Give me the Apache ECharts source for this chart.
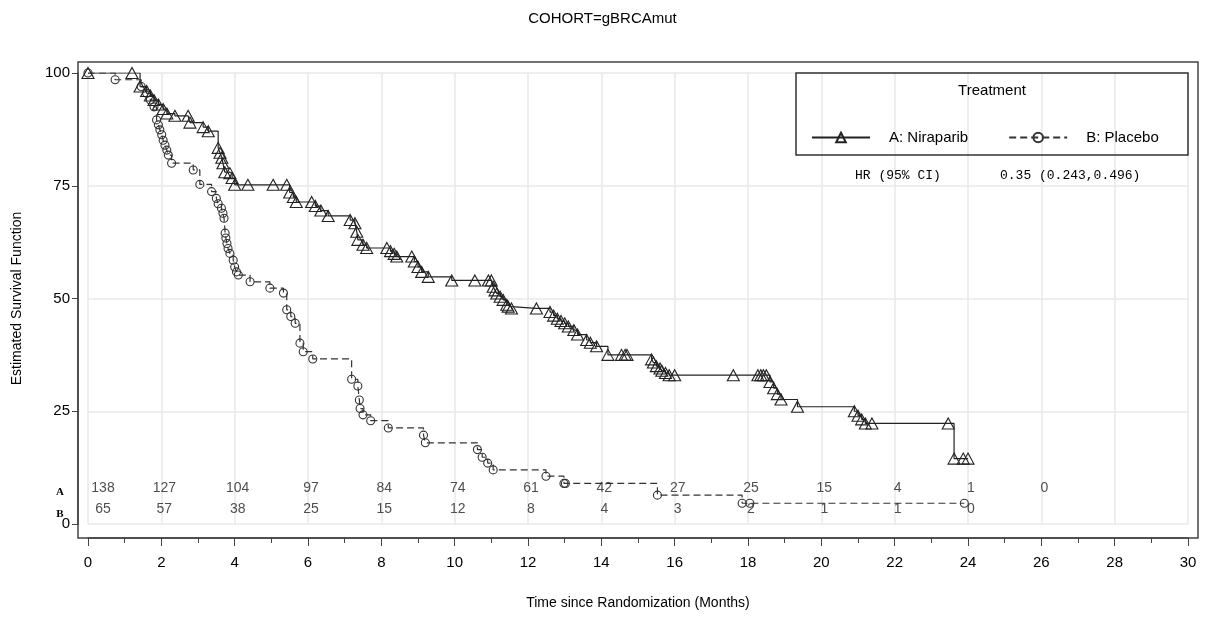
<!DOCTYPE html>
<html>
<head>
<meta charset="utf-8">
<script src="https://cdn.jsdelivr.net/npm/echarts@6/dist/echarts.min.js"></script>
<style>
  html, body { margin: 0; padding: 0; background: #fff; }
  #chart { width: 1205px; height: 617px; }
</style>
</head>
<body>
<div id="chart"></div>
<script>
// KM curve A: Niraparib (time in months, estimated survival %)
var armATime = [0, 1.2, 1.42, 1.6, 1.7, 1.8, 1.92, 2.05, 2.15, 2.37,
                2.73, 2.78, 3.14, 3.28, 3.55, 3.6, 3.65, 3.68, 3.73, 3.87,
                3.93, 4.0, 4.36, 5.05, 5.42, 5.5, 5.6, 5.68, 6.1, 6.2,
                6.35, 6.55, 7.15, 7.28, 7.33, 7.36, 7.5, 7.6, 8.15, 8.25,
                8.35, 8.42, 8.83, 8.9, 9.0, 9.1, 9.28, 9.92, 10.55, 10.92,
                11.0, 11.05, 11.1, 11.15, 11.24, 11.32, 11.42, 11.46, 11.55, 12.23,
                12.6, 12.7, 12.8, 12.9, 13.0, 13.1, 13.25, 13.35, 13.6, 13.7,
                13.87, 14.18, 14.55, 14.65, 14.7, 15.37, 15.42, 15.5, 15.6, 15.65,
                15.75, 15.85, 16.0, 17.6, 18.27, 18.35, 18.42, 18.5, 18.6, 18.7,
                18.8, 18.9, 19.35, 20.9, 21.0, 21.1, 21.2, 21.38, 23.46, 23.62,
                23.87, 24.0];
var armASurv = [100, 100, 97, 96, 95, 94, 93, 92, 91, 90.5,
                90.5, 89, 88, 87.1, 83.4, 82.3, 81.2, 80, 78, 77.8,
                76.7, 75.2, 75.2, 75.2, 75.2, 73.5, 72.5, 71.4, 71.4, 70.5,
                69.5, 68.3, 67.4, 66.7, 64.8, 63, 61.9, 61.2, 61.2, 60.5,
                59.9, 59.3, 59.3, 58.2, 57, 55.9, 54.8, 54.0, 54.0, 54.0,
                54.0, 52.6, 51.8, 51.1, 50.4, 49.7, 48.6, 48.2, 47.8, 47.8,
                47, 46.2, 45.5, 45, 44.5, 43.8, 43, 42, 40.8, 40.2,
                39.4, 37.5, 37.5, 37.5, 37.5, 36.5, 35.8, 35, 34.5, 34,
                33.5, 33, 33, 33, 33, 33, 33, 33, 31.5, 30.1,
                28.8, 27.6, 26, 25, 24, 23.2, 22.3, 22.3, 22.3, 14.5,
                14.5, 14.5];

// KM curve B: Placebo
var armBTime = [0, 0.74, 1.45, 1.6, 1.7, 1.8, 1.87, 1.92, 1.96, 2.01,
                2.05, 2.1, 2.15, 2.19, 2.28, 2.87, 3.05, 3.37, 3.5, 3.55,
                3.64, 3.68, 3.71, 3.74, 3.76, 3.79, 3.82, 3.87, 3.96, 4.0,
                4.05, 4.1, 4.42, 4.96, 5.33, 5.42, 5.53, 5.65, 5.78, 5.87,
                6.13, 7.19, 7.36, 7.4, 7.42, 7.5, 7.71, 8.19, 9.15, 9.2,
                10.62, 10.75, 10.9, 11.05, 12.49, 12.98, 13.02, 15.53, 17.84, 18.05,
                23.9];
var armBSurv = [100, 98.5, 97, 95.5, 94, 92.5, 89.6, 88.5, 87.4, 86.3,
                85.1, 84, 82.9, 81.8, 80, 78.5, 75.3, 73.7, 72.2, 71,
                70, 68.9, 67.8, 64.5, 63.4, 62.2, 61.1, 60, 58.5, 57,
                55.9, 55.2, 53.7, 52.3, 51.2, 47.5, 46, 44.5, 40.1, 38.2,
                36.6, 32.1, 30.6, 27.5, 25.6, 24.2, 22.9, 21.3, 19.7, 18.0,
                16.5, 14.8, 13.5, 12.0, 10.6, 9.0, 9.0, 6.4, 4.6, 4.6,
                4.6];

// numbers at risk
var riskTimes = [0, 2, 4, 6, 8, 10, 12, 14, 16, 18, 20, 22, 24, 26];
var riskA = [138, 127, 104, 97, 84, 74, 61, 42, 27, 25, 15, 4, 1, 0];
var riskB = [65, 57, 38, 25, 15, 12, 8, 4, 3, 2, 1, 1, 0];
var riskRowA = 8.0;
var riskRowB = 3.3;

var xTicks = [0, 2, 4, 6, 8, 10, 12, 14, 16, 18, 20, 22, 24, 26, 28, 30];
var yTicks = [0, 25, 50, 75, 100];

function pairs(xs, ys) {
    var out = [];
    for (var i = 0; i < xs.length; i++) out.push([xs[i], ys[i]]);
    return out;
}

function riskData(counts, level) {
    var out = [];
    for (var i = 0; i < counts.length; i++) {
        out.push({
            value: [riskTimes[i], level],
            label: { offset: i === 0 ? [15, 0] : [3, 0] }
        });
    }
    return out;
}

var font = 'Liberation Sans, Arial, sans-serif';
var chart = echarts.init(document.getElementById('chart'));

var option = {
    animation: false,
    backgroundColor: '#fff',
    title: {
        text: 'COHORT=gBRCAmut',
        left: 'center',
        top: 6,
        textStyle: { fontFamily: font, fontSize: 15, fontWeight: 'normal', color: '#000' }
    },
    grid: { left: 88, right: 17, top: 73, bottom: 93 },
    legend: {
        left: 806,
        top: 125,
        itemWidth: 58,
        itemHeight: 12,
        itemGap: 40,
        z: 20,
        data: ['A: Niraparib', 'B: Placebo'],
        textStyle: { fontFamily: font, fontSize: 15, color: '#000', padding: [0, 0, 0, 14] }
    },
    xAxis: {
        type: 'value',
        min: 0,
        max: 30,
        interval: 2,
        offset: 14,
        name: 'Time since Randomization (Months)',
        nameLocation: 'middle',
        nameGap: 58,
        nameTextStyle: { fontFamily: font, fontSize: 14, color: '#000' },
        axisLine: { show: true, onZero: false, lineStyle: { color: '#444', width: 1.5 } },
        axisTick: { show: true, length: 8, lineStyle: { color: '#444' } },
        minorTick: { show: true, splitNumber: 2, length: 5, lineStyle: { color: '#444' } },
        axisLabel: {
            margin: 17,
            fontFamily: font, fontSize: 15, color: '#000',
            formatter: function (v) { return xTicks.indexOf(v) >= 0 ? String(v) : ''; }
        },
        splitLine: { show: true, lineStyle: { color: '#e8e8e8', width: 1.5 } }
    },
    yAxis: {
        type: 'value',
        min: 0,
        max: 100,
        interval: 25,
        offset: 10,
        name: 'Estimated Survival Function',
        nameLocation: 'middle',
        nameGap: 54,
        nameTextStyle: { fontFamily: font, fontSize: 14, color: '#000' },
        axisLine: { show: true, onZero: false, lineStyle: { color: '#444', width: 1.5 } },
        axisTick: { show: true, length: 6, lineStyle: { color: '#444' } },
        axisLabel: {
            margin: 8,
            fontFamily: font, fontSize: 15, color: '#000',
            formatter: function (v) { return yTicks.indexOf(v) >= 0 ? String(v) : ''; }
        },
        splitLine: { show: true, lineStyle: { color: '#e8e8e8', width: 1.5 } }
    },
    series: [
        {
            name: 'B: Placebo',
            type: 'line',
            step: 'end',
            data: pairs(armBTime, armBSurv),
            symbol: 'circle',
            symbolSize: 8,
            showAllSymbol: true,
            lineStyle: { color: '#333', width: 1.2, type: [7, 4] },
            itemStyle: { color: 'rgba(255,255,255,0)', borderColor: '#333', borderWidth: 1.1 },
            z: 2
        },
        {
            name: 'A: Niraparib',
            type: 'line',
            step: 'end',
            data: pairs(armATime, armASurv),
            symbol: 'triangle',
            symbolSize: [12, 11],
            showAllSymbol: true,
            lineStyle: { color: '#222', width: 1.2 },
            itemStyle: { color: 'rgba(255,255,255,0)', borderColor: '#222', borderWidth: 1.1 },
            z: 3
        },
        {
            type: 'scatter',
            symbolSize: 0,
            silent: true,
            data: riskData(riskA, riskRowA),
            label: {
                show: true, position: 'inside',
                fontFamily: font, fontSize: 14, color: '#222',
                formatter: function (p) { return String(riskA[p.dataIndex]); }
            },
            z: 4
        },
        {
            type: 'scatter',
            symbolSize: 0,
            silent: true,
            data: riskData(riskB, riskRowB),
            label: {
                show: true, position: 'inside',
                fontFamily: font, fontSize: 14, color: '#222',
                formatter: function (p) { return String(riskB[p.dataIndex]); }
            },
            z: 4
        }
    ],
    graphic: [
        {
            type: 'rect', silent: true, z: 0,
            shape: { x: 78, y: 62, width: 1120, height: 476 },
            style: { fill: 'none', stroke: '#444', lineWidth: 1.5 }
        },
        {
            type: 'rect', silent: true, z: 10,
            shape: { x: 796, y: 73, width: 392, height: 82 },
            style: { fill: 'none', stroke: '#333', lineWidth: 1.5 }
        },
        {
            type: 'text', silent: true, z: 11,
            style: { x: 992, y: 91, text: 'Treatment', align: 'center', verticalAlign: 'middle',
                     font: '15px ' + font, fill: '#000' }
        },
        {
            type: 'text', silent: true, z: 11,
            style: { x: 855, y: 176, text: 'HR (95% CI)', verticalAlign: 'middle',
                     font: '13px Liberation Mono, Courier New, monospace', fill: '#000' }
        },
        {
            type: 'text', silent: true, z: 11,
            style: { x: 1000, y: 176, text: '0.35 (0.243,0.496)', verticalAlign: 'middle',
                     font: '13px Liberation Mono, Courier New, monospace', fill: '#000' }
        },
        {
            type: 'text', silent: true, z: 11,
            style: { x: 60, y: 492, text: 'A', align: 'center', verticalAlign: 'middle',
                     font: 'bold 11px Liberation Serif, serif', fill: '#000' }
        },
        {
            type: 'text', silent: true, z: 11,
            style: { x: 60, y: 514, text: 'B', align: 'center', verticalAlign: 'middle',
                     font: 'bold 11px Liberation Serif, serif', fill: '#000' }
        }
    ]
};

chart.setOption(option);
window.addEventListener('resize', function () { chart.resize(); });
</script>
</body>
</html>
